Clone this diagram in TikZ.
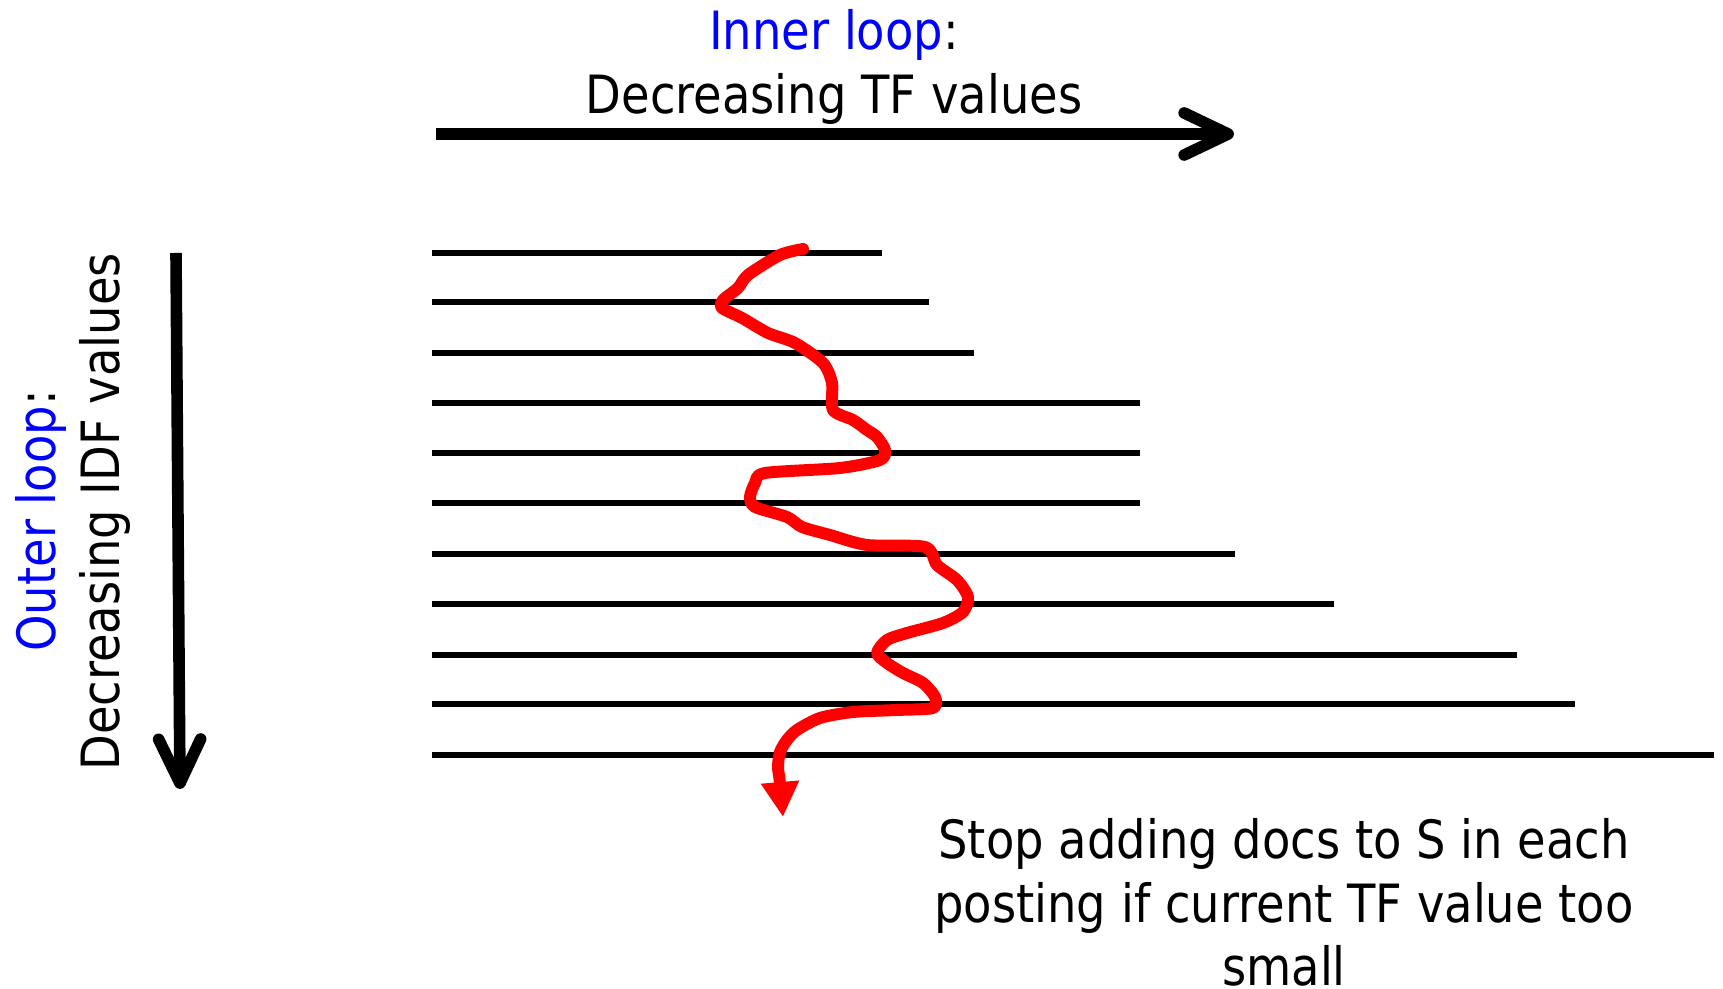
\documentclass[tikz,border=0pt]{standalone}
\usepackage{fontspec}
\setmainfont{DejaVu Sans}[FakeStretch=0.88]
\usetikzlibrary{arrows.meta}

\begin{document}
\begin{tikzpicture}[
  x=0.01cm, y=-0.01cm,
  txt/.style={anchor=base, inner sep=0pt, font=\fontsize{15}{18}\selectfont},
  loop/.style={line width=3.3pt, -{Straight Barb[length=4.4mm, width=4.2mm, round]}},
  posting/.style={line width=1.6pt},
  walk/.style={red, line width=3.4pt, line cap=round, line join=round, -{Triangle[length=3.5mm, width=3.6mm]}},
  ]
 \useasboundingbox (0,0) rectangle (1723,989);

 % inner loop, left to right
 \node [txt] (inner) at (834,50) {\textcolor{blue}{Inner loop}:};
 \node [txt] (tfdir) at (834,114) {Decreasing TF values};
 \coordinate (tfstart) at (436,134);
 \coordinate (tfend) at (1234,134);
 \draw [loop] (tfstart) -- (tfend);

 % outer loop, top to bottom
 \node [txt, rotate=90] (outer) at (55,521) {\textcolor{blue}{Outer loop}:};
 \node [txt, rotate=90] (idfdir) at (119,512) {Decreasing IDF values};
 \coordinate (idfstart) at (176,253);
 \coordinate (idfend) at (180,789);
 \draw [loop] (idfstart) -- (idfend);

 % postings, shortest first
 \foreach \y/\len in {253/882, 302/929, 353/974, 403/1140, 453/1140, 503/1140,
                      554/1235, 604/1334, 655/1517, 704/1575, 755/1714}
   \draw [posting] (432,\y) -- (\len,\y);

 % where the scan stops in each posting
 \coordinate (walkstart) at (803,249);
 \coordinate (walkend) at (783,817);
 \draw [walk] plot [smooth, tension=0.45] coordinates {
   (walkstart) (780,255) (748,275) (738,288) (723,300) (722,308) (742,318)
   (768,333) (795,343) (823,363) (832,383) (833,410) (853,420) (867,430)
   (877,437) (885,450) (880,460) (840,468) (765,473) (755,483) (750,497)
   (755,507) (787,517) (802,527) (830,535) (867,545) (925,547) (937,565)
   (957,580) (968,597) (963,612) (943,623) (907,633) (887,640) (877,653)
   (887,663) (903,673) (923,683) (935,697) (933,708) (897,710) (853,712)
   (820,718) (797,730) (787,740) (780,752) (778,767) (780,783) (walkend)};

 \node [txt] (stop1) at (1284,859) {Stop adding docs to S in each};
 \node [txt] (stop2) at (1284,923) {posting if current TF value too};
 \node [txt] (stop3) at (1284,986) {small};
\end{tikzpicture}
\end{document}
